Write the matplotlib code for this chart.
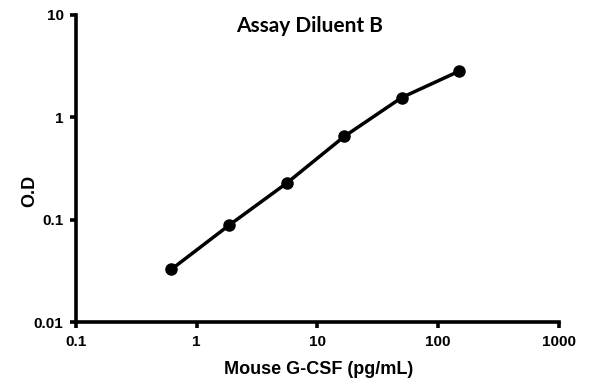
import matplotlib
matplotlib.use("Agg")
import matplotlib.pyplot as plt
from matplotlib.ticker import FixedLocator, FixedFormatter, NullLocator

conc = [0.617, 1.85, 5.56, 16.7, 50, 150]
od = [0.0327, 0.088, 0.227, 0.65, 1.56, 2.83]
xticks = [0.1, 1, 10, 100, 1000]
xticklabels = ["0.1", "1", "10", "100", "1000"]
yticks = [0.01, 0.1, 1, 10]
yticklabels = ["0.01", "0.1", "1", "10"]

fig = plt.figure(figsize=(5.95, 3.84), dpi=100)
ax = fig.add_axes([76/595, 1-322/384, (558.7-76)/595, (322-15)/384])
ax.plot(conc, od, color="black", lw=2.5, marker="o", ms=8, solid_capstyle="round")
ax.set_xscale("log")
ax.set_yscale("log")
ax.set_xlim(0.1, 1000)
ax.set_ylim(0.01, 10)
ax.xaxis.set_major_locator(FixedLocator(xticks))
ax.xaxis.set_major_formatter(FixedFormatter(xticklabels))
ax.yaxis.set_major_locator(FixedLocator(yticks))
ax.yaxis.set_major_formatter(FixedFormatter(yticklabels))
ax.xaxis.set_minor_locator(NullLocator())
ax.yaxis.set_minor_locator(NullLocator())
for s in ["top", "right"]:
    ax.spines[s].set_visible(False)
for s in ["left", "bottom"]:
    ax.spines[s].set_linewidth(2.6)
ax.tick_params(direction="out", length=4, width=2.6, pad=5)
for lab in ax.get_xticklabels() + ax.get_yticklabels():
    lab.set_fontfamily("Liberation Sans")
    lab.set_fontweight("bold")
    lab.set_fontsize(11)
ax.set_xlabel("Mouse G-CSF (pg/mL)", fontfamily="Liberation Sans", fontweight="bold", fontsize=13, va="center")
ax.set_ylabel("O.D", fontfamily="Liberation Sans", fontweight="bold", fontsize=13, va="center")
ax.xaxis.set_label_coords(0.503, -0.156)
ax.yaxis.set_label_coords(-0.095, 0.427)
fig.text(310/595, 1-26/384, "Assay Diluent B", ha="center", va="center",
         fontfamily="Lato", fontweight="bold", fontsize=15)
fig.savefig("out.png", dpi=100)
